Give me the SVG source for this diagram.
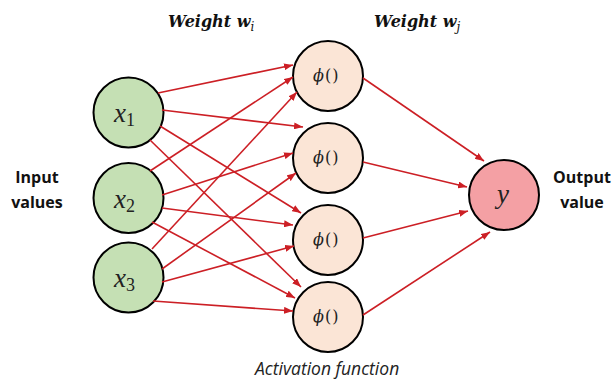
<svg xmlns="http://www.w3.org/2000/svg" width="612" height="380" viewBox="0 0 612 380">
<style>
.in{fill:#c5e0b4;stroke:#000;stroke-width:2}
.hid{fill:#fbe5d6;stroke:#000;stroke-width:2}
.out{fill:#f4a0a4;stroke:#000;stroke-width:2}
.c line{stroke:#cc1f25;stroke-width:1.6;marker-end:url(#ah)}
.var{font-family:"Liberation Serif",serif;font-style:italic;font-size:27px;fill:#222}
.sub{font-family:"Liberation Serif",serif;font-style:normal;font-size:18px}
.phi{font-family:"DejaVu Serif",serif;font-size:16px;fill:#222;letter-spacing:1px}
.side{font-family:"Open Sans","Liberation Sans",sans-serif;font-weight:bold;font-size:16px;fill:#111;text-anchor:middle}
.ttl{font-family:"DejaVu Serif",serif;font-weight:bold;font-style:italic;font-size:16px;fill:#111}
.cap{font-family:"Open Sans","Liberation Sans",sans-serif;font-style:italic;font-size:17.5px;fill:#222}
</style>
<defs>
<marker id="ah" markerUnits="userSpaceOnUse" markerWidth="9" markerHeight="7" refX="9" refY="3.5" orient="auto">
<path d="M0,0 L9,3.5 L0,7 z" fill="#cc1f25"/>
</marker>
</defs>
<text class="ttl" x="168" y="27">Weight w<tspan font-size="12" font-weight="normal" dy="4">i</tspan></text>
<text class="ttl" x="374" y="27">Weight w<tspan font-size="12" font-weight="normal" dy="4">j</tspan></text>
<text class="side" x="37" y="183">Input</text>
<text class="side" x="37" y="208">values</text>
<text class="side" x="582" y="183">Output</text>
<text class="side" x="582" y="208">value</text>
<text class="cap" x="255" y="375">Activation function</text>
<g id="x1"><circle class="in" cx="128.5" cy="112.5" r="35"/><text class="var" x="114" y="122">x<tspan class="sub" dy="4">1</tspan></text></g>
<g id="x2"><circle class="in" cx="128.5" cy="198" r="35"/><text class="var" x="114" y="208">x<tspan class="sub" dy="4">2</tspan></text></g>
<g id="x3"><circle class="in" cx="128.5" cy="277.5" r="35"/><text class="var" x="114" y="287">x<tspan class="sub" dy="4">3</tspan></text></g>
<g id="h1"><circle class="hid" cx="328" cy="76" r="35"/><text class="phi" x="313" y="81"><tspan font-style="italic">ϕ</tspan>()</text></g>
<g id="h2"><circle class="hid" cx="328" cy="158" r="35"/><text class="phi" x="313" y="163"><tspan font-style="italic">ϕ</tspan>()</text></g>
<g id="h3"><circle class="hid" cx="328" cy="240" r="35"/><text class="phi" x="313" y="245"><tspan font-style="italic">ϕ</tspan>()</text></g>
<g id="h4"><circle class="hid" cx="328" cy="317" r="35"/><text class="phi" x="313" y="322"><tspan font-style="italic">ϕ</tspan>()</text></g>
<g id="y"><circle class="out" cx="504" cy="195" r="35"/><text class="var" x="497" y="203">y</text></g>
<g id="connectors" class="c">
<line x1="158" y1="93" x2="293" y2="65"/>
<line x1="162" y1="110" x2="303" y2="127"/>
<line x1="160" y1="126" x2="301" y2="213"/>
<line x1="150" y1="140" x2="301" y2="287"/>
<line x1="150" y1="171" x2="293" y2="77"/>
<line x1="162" y1="195" x2="293" y2="153"/>
<line x1="162" y1="208" x2="293" y2="225"/>
<line x1="152" y1="222" x2="295" y2="298"/>
<line x1="152" y1="249" x2="297" y2="92"/>
<line x1="162" y1="269" x2="296" y2="173"/>
<line x1="162" y1="282" x2="294" y2="246"/>
<line x1="153" y1="301" x2="293" y2="311"/>
<line x1="363" y1="78" x2="484" y2="161"/>
<line x1="363" y1="162" x2="467" y2="187"/>
<line x1="363" y1="238" x2="468" y2="211"/>
<line x1="363" y1="315" x2="490" y2="232"/>
</g>
</svg>
